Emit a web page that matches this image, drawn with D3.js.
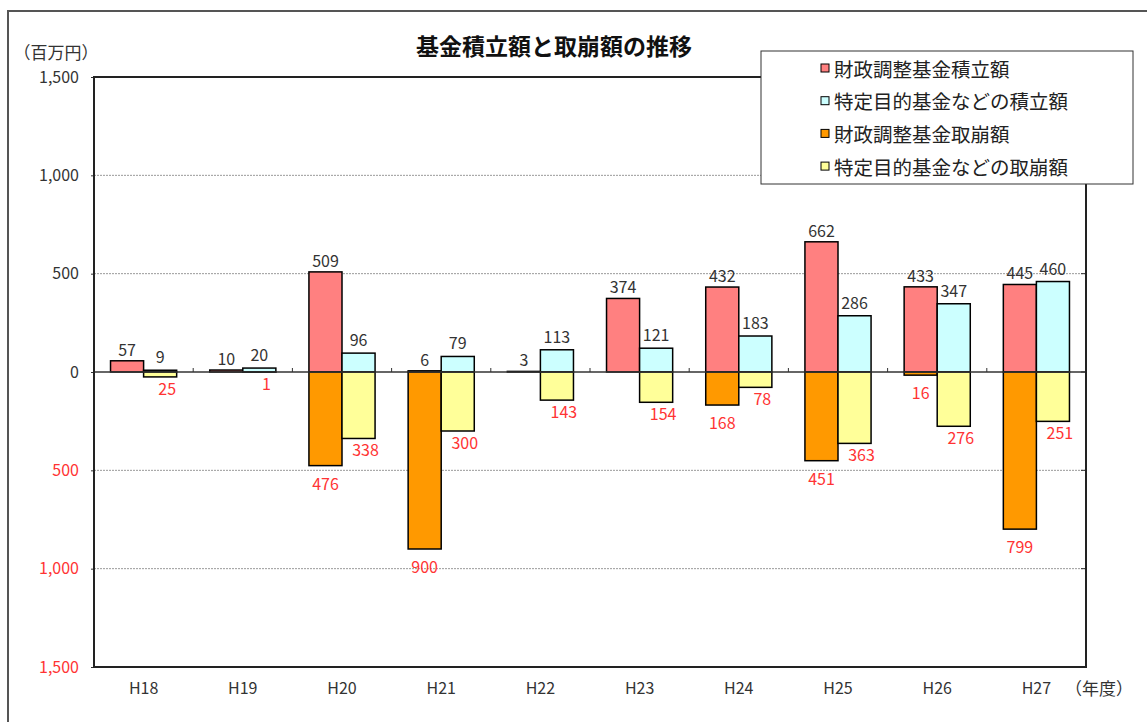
<!DOCTYPE html>
<html>
<head>
<meta charset="utf-8">
<script src="https://cdn.jsdelivr.net/npm/d3@7"></script>
<style>
body { margin: 0; background: #fff; }
text { font-family: "Noto Sans CJK JP", "DejaVu Sans", sans-serif; }
</style>
</head>
<body>
<div class="chart-div"></div>
<script>
// data
const years = ["H18","H19","H20","H21","H22","H23","H24","H25","H26","H27"];
const zaiseiIn  = [57, 10, 509, 6, 3, 374, 432, 662, 433, 445];     // 財政調整基金積立額
const tokuteiIn = [9, 20, 96, 79, 113, 121, 183, 286, 347, 460];    // 特定目的基金などの積立額
const zaiseiOut = [null, null, 476, 900, null, null, 168, 451, 16, 799]; // 財政調整基金取崩額
const tokuteiOut = [25, 1, 338, 300, 143, 154, 78, 363, 276, 251];  // 特定目的基金などの取崩額
const yTicks = [-1500, -1000, -500, 0, 500, 1000, 1500];

const seriesNames = ["財政調整基金積立額","特定目的基金などの積立額","財政調整基金取崩額","特定目的基金などの取崩額"];
const colours = ["#ff8080", "#ccffff", "#ff9900", "#ffff99"];

let width = 1147, height = 722;
const margin = {top: 77, right: 61, bottom: 55, left: 94};

let svg = d3.select(".chart-div").append("svg")
  .attr("width", width)
  .attr("height", height);

// outer frame
svg.append("rect")
  .attr("x", 8).attr("y", 11)
  .attr("width", 1200).attr("height", 800)
  .attr("fill", "none").attr("stroke", "#555").attr("stroke-width", 2);

let x = d3.scaleBand()
  .domain(years)
  .range([margin.left, width - margin.right]);

let y = d3.scaleLinear()
  .domain([-1500, 1500])
  .range([height - margin.bottom, margin.top]);

let barW = x.bandwidth() / 3;

// grid lines
svg.selectAll("line.grid")
  .data(yTicks.filter(d => Math.abs(d) != 1500 && d != 0))
  .enter().append("line")
  .attr("class", "grid")
  .attr("x1", margin.left).attr("x2", width - margin.right)
  .attr("y1", d => y(d)).attr("y2", d => y(d))
  .attr("stroke", "#999").attr("stroke-width", 1)
  .attr("stroke-dasharray", "2,1");

// y axis
let yAxis = d3.axisLeft(y)
  .tickValues(yTicks)
  .tickSize(3)
  .tickPadding(12)
  .tickFormat(d => d3.format(",")(Math.abs(d)));

let yg = svg.append("g")
  .attr("transform", `translate(${margin.left},0)`)
  .call(yAxis);
yg.select(".domain").remove();
yg.selectAll(".tick line").attr("stroke", "#333");
yg.selectAll(".tick text")
  .style("font-size", "16px")
  .attr("fill", d => d < 0 ? "#ff3333" : "#333");

// right side inner ticks
svg.selectAll("line.rtick")
  .data(yTicks)
  .enter().append("line")
  .attr("class", "rtick")
  .attr("x1", width - margin.right - 5).attr("x2", width - margin.right)
  .attr("y1", d => y(d)).attr("y2", d => y(d))
  .attr("stroke", "#333");

// bars
function drawBars(vals, colour, offset) {
  svg.append("g").selectAll("rect")
    .data(years.map((d, i) => ({year: d, value: vals[i]})).filter(d => d.value != null))
    .enter().append("rect")
    .attr("x", d => x(d.year) + barW * offset)
    .attr("width", barW)
    .attr("y", d => d.value >= 0 ? y(d.value) : y(0))
    .attr("height", d => Math.abs(y(d.value) - y(0)))
    .attr("fill", colour)
    .attr("stroke", "#000")
    .attr("stroke-width", 1.5);
}
drawBars(zaiseiIn, colours[0], 0.5);
drawBars(tokuteiIn, colours[1], 1.5);
drawBars(zaiseiOut.map(d => d == null ? null : -d), colours[2], 0.5);
drawBars(tokuteiOut.map(d => -d), colours[3], 1.5);

// zero line with category ticks
svg.append("line")
  .attr("x1", margin.left).attr("x2", width - margin.right)
  .attr("y1", y(0)).attr("y2", y(0))
  .attr("stroke", "#333").attr("stroke-width", 1.5);
svg.selectAll("line.ztick")
  .data(years.slice(1))
  .enter().append("line")
  .attr("class", "ztick")
  .attr("x1", d => x(d)).attr("x2", d => x(d))
  .attr("y1", y(0)).attr("y2", y(0) - 4)
  .attr("stroke", "#333");

// plot border
svg.append("rect")
  .attr("x", margin.left).attr("y", margin.top)
  .attr("width", width - margin.left - margin.right)
  .attr("height", height - margin.top - margin.bottom)
  .attr("fill", "none").attr("stroke", "#222").attr("stroke-width", 2);

// value labels
function drawLabels(vals, offset, dy, dx, colour) {
  svg.append("g").selectAll("text")
    .data(years.map((d, i) => ({year: d, value: vals[i]})).filter(d => d.value != null))
    .enter().append("text")
    .attr("x", d => x(d.year) + barW * (offset + 0.5) + dx)
    .attr("y", d => y(d.value) + dy)
    .attr("text-anchor", "middle")
    .attr("dominant-baseline", "central")
    .style("font-size", "16px")
    .attr("fill", colour)
    .text(d => Math.abs(d.value));
}
drawLabels(zaiseiIn, 0.5, -12, 0, "#333");
drawLabels(tokuteiIn, 1.5, -14, 0, "#333");
drawLabels(zaiseiOut.map(d => d == null ? null : -d), 0.5, 17, 0, "#ff3333");
drawLabels(tokuteiOut.map(d => -d), 1.5, 11, 7, "#ff3333");

// x axis labels
svg.selectAll("text.xlab")
  .data(years)
  .enter().append("text")
  .attr("class", "xlab")
  .attr("x", d => x(d) + x.bandwidth() / 2)
  .attr("y", 687)
  .attr("text-anchor", "middle")
  .attr("dominant-baseline", "central")
  .style("font-size", "16px")
  .attr("fill", "#333")
  .text(d => d);

svg.append("text")
  .attr("x", 1099).attr("y", 687)
  .attr("text-anchor", "middle").attr("dominant-baseline", "central")
  .style("font-size", "17px").attr("fill", "#333")
  .text("（年度）");

// unit
svg.append("text")
  .attr("x", 56).attr("y", 51)
  .attr("text-anchor", "middle").attr("dominant-baseline", "central")
  .style("font-size", "17px").attr("fill", "#333")
  .text("（百万円）");

// title
svg.append("text")
  .attr("x", 554).attr("y", 45)
  .attr("text-anchor", "middle").attr("dominant-baseline", "central")
  .style("font-size", "23px").style("font-weight", "bold").attr("fill", "#111")
  .text("基金積立額と取崩額の推移");

// legend
let legend = svg.append("g");
legend.append("rect")
  .attr("x", 761).attr("y", 51)
  .attr("width", 372).attr("height", 133)
  .attr("fill", "#fff").attr("stroke", "#333").attr("stroke-width", 1);

let items = legend.selectAll("g.item")
  .data(seriesNames)
  .enter().append("g")
  .attr("class", "item")
  .attr("transform", (d, i) => `translate(821, ${68 + i * 32.7})`);
items.append("rect")
  .attr("x", 0).attr("y", -4)
  .attr("width", 8).attr("height", 8)
  .attr("fill", (d, i) => colours[i])
  .attr("stroke", "#000").attr("stroke-width", 1);
items.append("text")
  .attr("x", 13).attr("y", 0)
  .attr("dominant-baseline", "central")
  .style("font-size", "19.5px").attr("fill", "#222")
  .text(d => d);
</script>
</body>
</html>
